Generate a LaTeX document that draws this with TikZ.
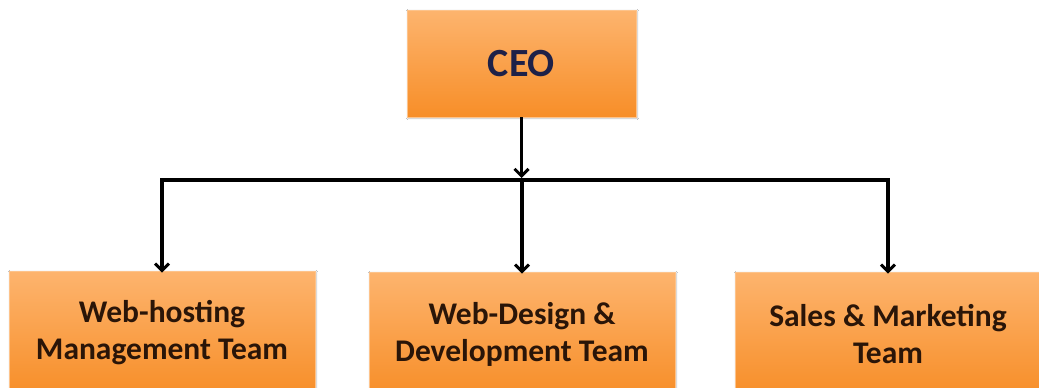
\documentclass[tikz,border=0pt]{standalone}
\usepackage{fontspec}
\setmainfont{Carlito}
\usetikzlibrary{arrows.meta,shadows.blur}
\definecolor{boxtop}{HTML}{FDB46E}
\definecolor{boxbot}{HTML}{F78E28}
\definecolor{ceotext}{HTML}{1E2148}
\definecolor{teamtext}{HTML}{2A1508}
\tikzset{
  orgbox/.style={rectangle, top color=boxtop, bottom color=boxbot, draw=boxtop!80!white, line width=0.6pt,
    blur shadow={shadow xshift=1pt, shadow yshift=-1pt, shadow blur steps=6, shadow opacity=25},
    inner sep=0pt, align=center, font=\bfseries},
  ceobox/.style={orgbox, minimum width=229pt, minimum height=107pt, text=ceotext, font=\bfseries\fontsize{40}{44}\selectfont},
  teambox/.style={orgbox, minimum width=306pt, minimum height=124pt, text=teamtext, font=\bfseries\fontsize{31.5}{37}\selectfont},
  conn/.style={line width=3.4pt, black},
  arr/.style={conn, -{Straight Barb[length=7pt,width=14pt,line width=3pt]}}
}
\begin{document}
\begin{tikzpicture}[x=1pt,y=-1pt]
\useasboundingbox (0,0) rectangle (1039,388);
\fill[white] (0,0) rectangle (1039,388);
\node[ceobox] (ceo) at (521.5,63.5) {CEO};
\node[teambox] (t1) at (162,333) {Web-hosting\\Management Team};
\node[teambox] (t2) at (522,334) {Web-Design \&\\Development Team};
\node[teambox] (t3) at (888,334) {Sales \& Marketing\\Team};
\coordinate (bus) at (521.5,180);
\coordinate (b1) at (t1.north |- bus);
\coordinate (b3) at (t3.north |- bus);
\draw[conn, line cap=rect] (b1) -- (b3);
\draw[arr] (ceo.south) -- ([yshift=2pt]bus);
\draw[arr] (b1) -- ([yshift=-2pt]t1.north);
\draw[arr] (t2.north |- bus) -- ([yshift=-2pt]t2.north);
\draw[arr] (b3) -- ([yshift=-2pt]t3.north);
\end{tikzpicture}
\end{document}
